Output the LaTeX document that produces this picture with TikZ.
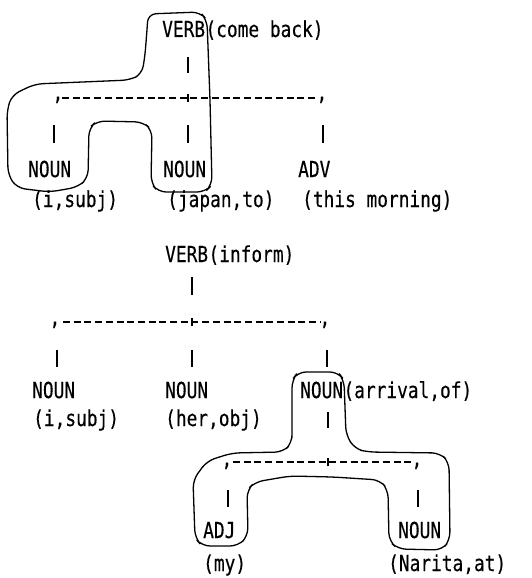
\documentclass[tikz,border=0pt]{standalone}
\usepackage{fontspec}
\newfontfamily\tty[FakeStretch=0.81,FakeBold=0.3]{DejaVu Sans Mono}
\begin{document}
\begin{tikzpicture}[x=1pt,y=-1pt,
  lbl/.style={anchor=base west,inner sep=0pt,font=\tty\fontsize{22}{24}\selectfont},
  commamark/.style={anchor=base,inner sep=0pt,font=\tty\fontsize{22}{24}\selectfont},
  bar/.style={line width=1.7pt},
  rail/.style={line width=1.2pt,dash pattern=on 7pt off 3.7pt},
  tick/.style={line width=1.1pt},
  blob/.style={line width=1.3pt,rounded corners=8pt}]
\useasboundingbox (0,0) rectangle (532,578);

% ---------- first tree: VERB(come back) ----------
\node[lbl] (v1)  at (162,37) {VERB};
\node[lbl] (v1g) at (v1.base east) {(come back)};
\coordinate (v1a) at (188,57);  \coordinate (v1b) at (188,73);
\draw[bar] (v1a) -- (v1b);
\coordinate (r1l) at (62,98);   \coordinate (r1r) at (318,98);
\draw[rail] (r1l) -- (r1r);
\node[commamark] (c1l) at (58,100) {,};
\node[commamark] (c1r) at (322,100) {,};
\coordinate (j1) at (188,98);
\draw[tick] ([yshift=-4pt]j1) -- ([yshift=4pt]j1);
\foreach \x/\n in {54/a,188/b,323/c}{
  \coordinate (t1\n) at (\x,125); \coordinate (u1\n) at (\x,143);
  \draw[bar] (t1\n) -- (u1\n);
}
\node[lbl] (n11) at (28,177)  {NOUN};
\node[lbl] (n12) at (163,177) {NOUN};
\node[lbl] (n13) at (298,177) {ADV};
\node[lbl] (g11) at (32,207)  {(i,subj)};
\node[lbl] (g12) at (167,207) {(japan,to)};
\node[lbl] (g13) at (302,207) {(this morning)};

% hand-drawn outline around VERB, NOUN, NOUN
\draw[blob] (147,30) -- (148,14) -- (200,12) -- (207,20) -- (210,100)
  -- (212,185) -- (205,192) -- (158,192) -- (151,183) -- (152,130)
  -- (143,122) -- (97,121) -- (89,128) -- (88,178) -- (78,187)
  -- (50,192) -- (17,188) -- (8,175) -- (7,110) -- (12,95) -- (35,84)
  -- (130,80) -- (142,74) -- (145,55) -- cycle;

% ---------- second tree: VERB(inform) ----------
\node[lbl] (v2)  at (165,262) {VERB};
\node[lbl] (v2g) at (v2.base east) {(inform)};
\coordinate (v2a) at (192,277); \coordinate (v2b) at (192,295);
\draw[bar] (v2a) -- (v2b);
\coordinate (r2l) at (63,322);  \coordinate (r2r) at (320,322);
\draw[rail] (r2l) -- (r2r);
\node[commamark] (c2l) at (55,325) {,};
\node[commamark] (c2r) at (325,325) {,};
\coordinate (j2) at (192,322);
\draw[tick] ([yshift=-4pt]j2) -- ([yshift=4pt]j2);
\foreach \x/\n in {57/a,192/b,327/c}{
  \coordinate (t2\n) at (\x,350); \coordinate (u2\n) at (\x,367);
  \draw[bar] (t2\n) -- (u2\n);
}
\node[lbl] (n21) at (32,398)  {NOUN};
\node[lbl] (n22) at (165,398) {NOUN};
\node[lbl] (n23) at (300,398) {NOUN};
\node[lbl] (n23g) at (n23.base east) {(arrival,of)};
\node[lbl] (g21) at (33,426)  {(i,subj)};
\node[lbl] (g22) at (165,426) {(her,obj)};

% subtree below NOUN(arrival,of)
\coordinate (n3a) at (328,412); \coordinate (n3b) at (328,428);
\draw[bar] (n3a) -- (n3b);
\coordinate (r3l) at (233,462); \coordinate (r3r) at (413,462);
\draw[rail] (r3l) -- (r3r);
\node[commamark] (c3l) at (227,466) {,};
\node[commamark] (c3r) at (417,466) {,};
\coordinate (j3) at (328,462);
\draw[tick] ([yshift=-4pt]j3) -- ([yshift=4pt]j3);
\foreach \x/\n in {228/a,418/b}{
  \coordinate (t3\n) at (\x,490); \coordinate (u3\n) at (\x,507);
  \draw[bar] (t3\n) -- (u3\n);
}
\node[lbl] (a31) at (203,538) {ADJ};
\node[lbl] (n32) at (398,538) {NOUN};
\node[lbl] (g31) at (203,571) {(my)};
\node[lbl] (g32) at (388,571) {(Narita,at)};

% hand-drawn outline around NOUN, ADJ, NOUN
\draw[blob] (292,430) -- (292,380) -- (298,372) -- (338,372) -- (344,380)
  -- (346,435) -- (355,449) -- (368,452) -- (440,453) -- (449,462)
  -- (450,540) -- (442,550) -- (398,549) -- (389,541) -- (388,490)
  -- (380,480) -- (333,477) -- (290,476) -- (255,482) -- (247,490)
  -- (248,536) -- (238,546) -- (202,546) -- (195,538) -- (193,480)
  -- (207,461) -- (232,453) -- (283,452) -- (292,443) -- cycle;
\end{tikzpicture}
\end{document}
